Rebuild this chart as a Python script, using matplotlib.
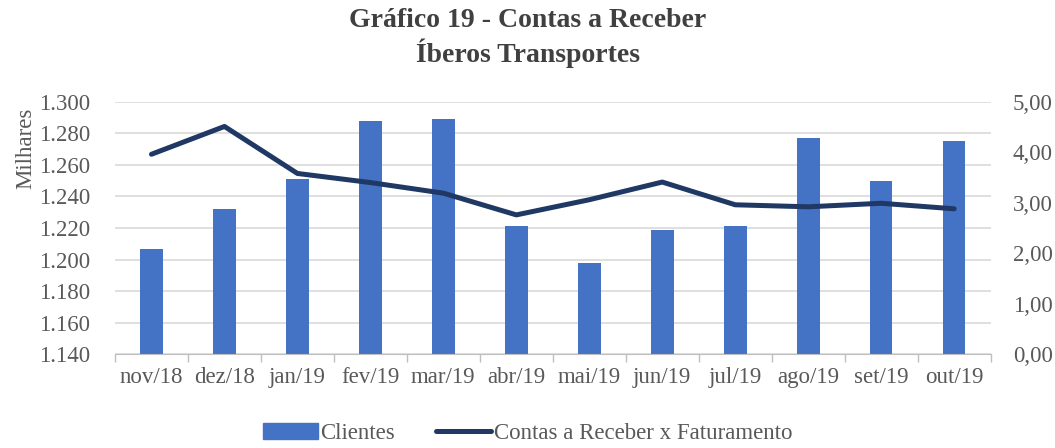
import matplotlib
matplotlib.use("Agg")
import matplotlib.pyplot as plt
import numpy as np
from matplotlib.patches import Patch
from matplotlib.lines import Line2D

months = ["nov/18", "dez/18", "jan/19", "fev/19", "mar/19", "abr/19",
          "mai/19", "jun/19", "jul/19", "ago/19", "set/19", "out/19"]
clientes = [1.207, 1.232, 1.251, 1.288, 1.289, 1.221, 1.198, 1.219, 1.221, 1.277, 1.250, 1.275]
ratio = [3.96, 4.51, 3.58, 3.40, 3.19, 2.76, 3.06, 3.41, 2.96, 2.92, 2.99, 2.88]

plt.rcParams['font.family'] = ['Liberation Serif', 'DejaVu Serif']
txt = '#595959'

fig = plt.figure(figsize=(10.55, 4.48), dpi=100)
ax = fig.add_axes([0.109, 0.209, 0.830, 0.564])
ax2 = ax.twinx()

x = np.arange(len(months))
ax.bar(x, clientes, width=0.31, color='#4472c4', zorder=2)
ax.set_ylim(1.14, 1.30)
yt = np.arange(1.14, 1.3001, 0.02)
ax.set_yticks(yt)
ax.set_yticklabels([f"{v:.3f}" for v in yt])
ax.set_xlim(-0.5, len(months) - 0.5)
ax.set_xticks(x)
ax.set_xticklabels(months)
ax.set_xticks(np.arange(-0.5, len(months)), minor=True)
ax.tick_params(axis='x', which='major', length=0, pad=9, labelsize=16.5, labelcolor=txt)
ax.tick_params(axis='x', which='minor', length=6, color='#bfbfbf', width=1)
ax.tick_params(axis='y', length=0, labelsize=16.5, labelcolor=txt, pad=18)
ax.grid(axis='y', color='#d9d9d9', linewidth=1.2, zorder=0)
ax.set_axisbelow(True)
for s in ['top', 'left', 'right']:
    ax.spines[s].set_visible(False)
ax.spines['bottom'].set_color('#bfbfbf')

fig.text(0.024, 1 - 148 / 448, "Milhares", rotation=90, ha='center', va='center',
         fontsize=16.5, color=txt)

ax2.plot(x, ratio, color='#1f3864', linewidth=3.6, solid_capstyle='round', zorder=3)
ax2.set_ylim(0, 5)
rt = np.arange(0, 5.01, 1)
ax2.set_yticks(rt)
ax2.set_yticklabels([f"{v:.2f}".replace('.', ',') for v in rt])
ax2.tick_params(axis='y', length=0, labelsize=16.5, labelcolor=txt, pad=16)
for s in ['top', 'left', 'right', 'bottom']:
    ax2.spines[s].set_visible(False)

fig.text(0.5, 0.955, "Gráfico 19 - Contas a Receber", ha='center', va='center',
         fontsize=20, fontweight='bold', color='#404040')
fig.text(0.5, 0.882, "Íberos Transportes", ha='center', va='center',
         fontsize=20, fontweight='bold', color='#404040')

handles = [Patch(color='#4472c4'), Line2D([0], [0], color='#1f3864', linewidth=3.6, solid_capstyle='round')]
fig.legend(handles, ["Clientes", "Contas a Receber x Faturamento"], loc='center',
           bbox_to_anchor=(0.5, 0.033), ncol=2, frameon=False, fontsize=16.5,
           labelcolor=txt, handlelength=2.4, handletextpad=0.1, columnspacing=1.8)

fig.savefig("out.png", dpi=100)
